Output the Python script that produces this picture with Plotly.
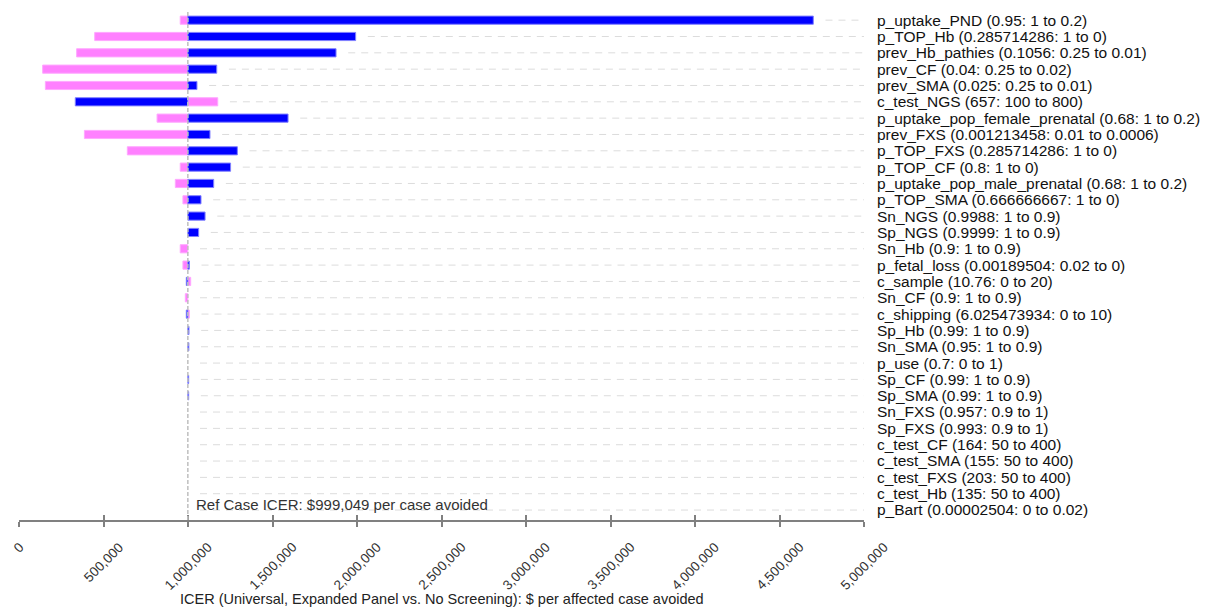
import plotly.graph_objects as go

ref_icer = 999049

params = [
    "p_uptake_PND (0.95: 1 to 0.2)",
    "p_TOP_Hb (0.285714286: 1 to 0)",
    "prev_Hb_pathies (0.1056: 0.25 to 0.01)",
    "prev_CF (0.04: 0.25 to 0.02)",
    "prev_SMA (0.025: 0.25 to 0.01)",
    "c_test_NGS (657: 100 to 800)",
    "p_uptake_pop_female_prenatal (0.68: 1 to 0.2)",
    "prev_FXS (0.001213458: 0.01 to 0.0006)",
    "p_TOP_FXS (0.285714286: 1 to 0)",
    "p_TOP_CF (0.8: 1 to 0)",
    "p_uptake_pop_male_prenatal (0.68: 1 to 0.2)",
    "p_TOP_SMA (0.666666667: 1 to 0)",
    "Sn_NGS (0.9988: 1 to 0.9)",
    "Sp_NGS (0.9999: 1 to 0.9)",
    "Sn_Hb (0.9: 1 to 0.9)",
    "p_fetal_loss (0.00189504: 0.02 to 0)",
    "c_sample (10.76: 0 to 20)",
    "Sn_CF (0.9: 1 to 0.9)",
    "c_shipping (6.025473934: 0 to 10)",
    "Sp_Hb (0.99: 1 to 0.9)",
    "Sn_SMA (0.95: 1 to 0.9)",
    "p_use (0.7: 0 to 1)",
    "Sp_CF (0.99: 1 to 0.9)",
    "Sp_SMA (0.99: 1 to 0.9)",
    "Sn_FXS (0.957: 0.9 to 1)",
    "Sp_FXS (0.993: 0.9 to 1)",
    "c_test_CF (164: 50 to 400)",
    "c_test_SMA (155: 50 to 400)",
    "c_test_FXS (203: 50 to 400)",
    "c_test_Hb (135: 50 to 400)",
    "p_Bart (0.00002504: 0 to 0.02)",
]

# ICER at the pink (one bound) and blue (other bound) parameter values
icer_pink = [954000, 448000, 341000, 140000, 156000, 1176000, 817000, 387000,
             641000, 954000, 925000, 970000, None, None, 954000, 970000,
             1016000, 984000, 1008000, None, None, None, None, None,
             None, None, None, None, None, None, None]
icer_blue = [4700000, 1992000, 1876000, 1170000, 1053000, 333000, 1592000, 1130000,
             1292000, 1252000, 1152000, 1077000, 1101000, 1063000, None, 1008000,
             990000, None, 990000, 1006000, 1005000, None, 1004000, 1004000,
             None, None, None, None, None, None, None]

x_ticks = [0, 500000, 1000000, 1500000, 2000000, 2500000, 3000000, 3500000,
           4000000, 4500000, 5000000]
x_title = "ICER (Universal, Expanded Panel vs. No Screening): $ per affected case avoided"

FONT = "Liberation Sans, Arial, sans-serif"

fig = go.Figure()

# dashed leader lines from bar ends to labels
gx, gy = [], []
for p, a, b in zip(params, icer_pink, icer_blue):
    vals = [v for v in (a, b, ref_icer) if v is not None]
    start = max(vals) + 72000
    gx += [start, 5000000, None]
    gy += [p, p, None]
fig.add_trace(go.Scatter(x=gx, y=gy, mode="lines", hoverinfo="skip",
                         line=dict(color="#DCDCDC", width=1, dash="7px,6px"),
                         showlegend=False))

fig.add_trace(go.Bar(
    y=params, x=[None if v is None else v - ref_icer for v in icer_pink],
    base=ref_icer, orientation="h", width=0.5,
    marker=dict(color="#FF80FF", line=dict(color="#FFA8FF", width=1)),
    name="low", showlegend=False))
fig.add_trace(go.Bar(
    y=params, x=[None if v is None else v - ref_icer for v in icer_blue],
    base=ref_icer, orientation="h", width=0.5,
    marker=dict(color="#0000FF", line=dict(color="#8080FF", width=1)),
    name="high", showlegend=False))

# reference line
fig.add_shape(type="line", x0=ref_icer, x1=ref_icer, xref="x",
              y0=0, y1=1, yref="paper",
              line=dict(color="#BFBFBF", width=1.5, dash="4px,2px"))

fig.add_annotation(x=ref_icer, xref="x", y=0.03, yref="paper",
                   text=f"Ref Case ICER: ${ref_icer:,} per case avoided",
                   showarrow=False, xanchor="left", yanchor="middle", xshift=6,
                   font=dict(family=FONT, size=15, color="#333333"))

# rotated tick labels, centred under each tick
for t in x_ticks:
    fig.add_annotation(x=t, xref="x", y=-0.033, yref="paper",
                       text=f"{t:,}", textangle=-45, showarrow=False,
                       xanchor="center", yanchor="top",
                       font=dict(family=FONT, size=13.5, color="#333333"))

fig.add_annotation(x=0.5, xref="paper", y=-0.156, yref="paper",
                   text=x_title, showarrow=False, xanchor="center", yanchor="middle",
                   font=dict(family=FONT, size=14.5, color="#222222"))

fig.update_layout(
    width=1205, height=607,
    margin=dict(l=19, r=341, t=12, b=87),
    paper_bgcolor="white", plot_bgcolor="white",
    barmode="overlay",
    font=dict(family=FONT, size=15, color="#222222"),
    xaxis=dict(range=[0, 5000000], tickvals=x_ticks, showticklabels=False,
               showgrid=False, zeroline=False, automargin=False,
               showline=True, linecolor="#808080", linewidth=2,
               ticks="outside", ticklen=5, tickwidth=1.5, tickcolor="#808080"),
    xaxis2=dict(range=[0, 5000000], tickvals=x_ticks, overlaying="x", side="bottom",
                anchor="y", showticklabels=False, showgrid=False, zeroline=False,
                ticks="inside", ticklen=5, tickwidth=1.5, tickcolor="#808080"),
    yaxis=dict(categoryorder="array", categoryarray=params,
               tickmode="array", tickvals=params, ticktext=params,
               range=[30.61, -0.5], side="right", showgrid=False,
               zeroline=False, showline=False, ticks="", automargin=False,
               ticklabelstandoff=12,
               tickfont=dict(family=FONT, size=15.5, color="#111111")),
)

# dummy trace on xaxis2 so its ticks render
fig.add_trace(go.Scatter(x=[None], y=[params[0]], xaxis="x2", showlegend=False,
                         hoverinfo="skip"))

fig.write_html("out.html")
